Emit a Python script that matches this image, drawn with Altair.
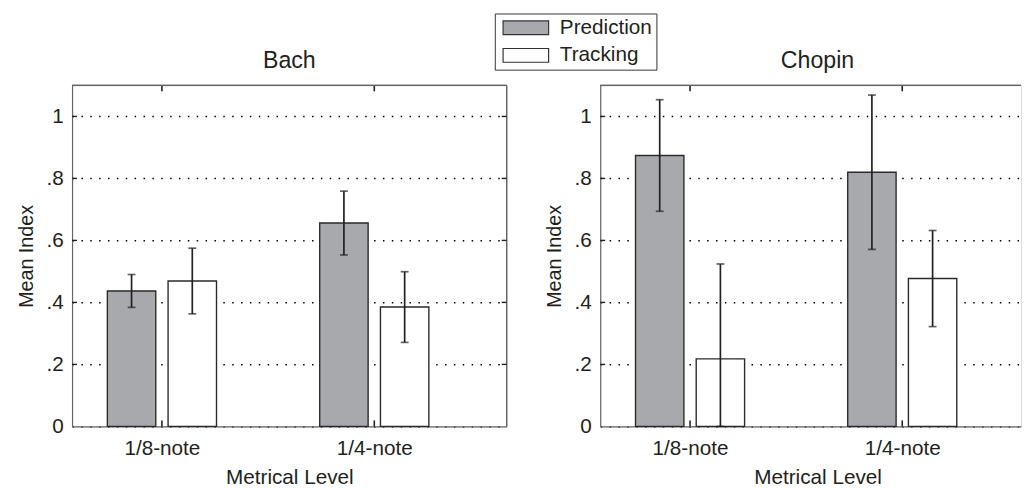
import json
import altair as alt
import pandas as pd

# ---- data ----
levels = ["1/8-note", "1/4-note"]
conditions = ["Prediction", "Tracking"]
bar_level = ["1/8-note", "1/8-note", "1/4-note", "1/4-note"]
bar_condition = ["Prediction", "Tracking", "Prediction", "Tracking"]
bach_mean = [0.437, 0.469, 0.656, 0.385]
bach_err = [0.053, 0.106, 0.103, 0.114]
chopin_mean = [0.874, 0.218, 0.820, 0.477]
chopin_err = [0.180, 0.306, 0.249, 0.155]
y_ticks = [0, 0.2, 0.4, 0.6, 0.8, 1.0]
y_tick_labels = ["0", ".2", ".4", ".6", ".8", "1"]

FONT = "Liberation Sans"
TXT = "#231f20"
FRAME = "#666666"
FS = 21

PX_PER_UNIT = 220.5
H = 346
GROUP_SHIFT = 0.143
HALF_BAR = 0.114


def panel(title, mean, err, width, right_border, legend):
    df = pd.DataFrame({
        "level": bar_level,
        "condition": bar_condition,
        "mean": mean,
        "err": err,
    })
    df["lvl"] = [levels.index(l) + 1 for l in df["level"]]
    xmax = 0.6 + width / PX_PER_UNIT
    xs = alt.Scale(domain=[0.6, xmax], nice=False, zero=False)
    ys = alt.Scale(domain=[0, 1.1], nice=False, zero=False)

    label_expr = "datum.value == 1 ? '%s' : '%s'" % (levels[0], levels[1])
    xaxis = alt.Axis(values=[1, 2], labelExpr=label_expr, title="Metrical Level",
                     ticks=False, grid=False, domainColor=FRAME, domainWidth=1.2,
                     labelPadding=12, titlePadding=8, titleX=220.5,
                     labelFontSize=FS, titleFontSize=FS, titleFontWeight="normal",
                     labelFont=FONT, titleFont=FONT, labelColor=TXT, titleColor=TXT)
    yaxis = alt.Axis(values=y_ticks, labelExpr=json.dumps(y_tick_labels) + "[round(datum.value*5)]",
                     title="Mean Index", ticks=False, grid=True, gridDash=[1.5, 7.5],
                     gridColor="#000000", gridWidth=1.5, domainColor=FRAME, domainWidth=1.2,
                     labelPadding=9, titlePadding=10, labelFontSize=FS, titleFontSize=20,
                     titleFontWeight="normal",
                     labelFont=FONT, titleFont=FONT, labelColor=TXT, titleColor=TXT)

    base = alt.Chart(df).transform_calculate(
        xc=f"datum.lvl + (datum.condition == '{conditions[0]}' ? -{GROUP_SHIFT} : {GROUP_SHIFT})"
    ).transform_calculate(
        x1=f"datum.xc - {HALF_BAR}", x2=f"datum.xc + {HALF_BAR}",
        lo="max(0, datum.mean - datum.err)", hi="datum.mean + datum.err",
    )

    bars = base.mark_bar(orient="vertical", stroke="#2a2a2a", strokeWidth=1.4).encode(
        x=alt.X("x1:Q", scale=xs, axis=xaxis),
        x2="x2:Q",
        y=alt.Y("mean:Q", scale=ys, axis=yaxis),
        y2=alt.datum(0),
        color=alt.Color("condition:N",
                        scale=alt.Scale(domain=conditions, range=["#a7a9ac", "#ffffff"]),
                        legend=legend),
    )
    ebar = base.mark_rule(color="#231f20", strokeWidth=1.7).encode(
        x="xc:Q", y="lo:Q", y2="hi:Q")
    cap_hi = base.mark_tick(orient="horizontal", size=8, thickness=1.7, color="#231f20").encode(
        x="xc:Q", y="hi:Q")
    cap_lo = base.mark_tick(orient="horizontal", size=8, thickness=1.7, color="#231f20").encode(
        x="xc:Q", y="lo:Q")

    tick_df = pd.DataFrame({"pos": [1, 2]})
    top_ticks = alt.Chart(tick_df).mark_rule(color="#231f20", strokeWidth=1.6).encode(
        x="pos:Q", y=alt.value(0), y2=alt.value(6))
    bot_ticks = alt.Chart(tick_df).mark_rule(color="#231f20", strokeWidth=1.6).encode(
        x="pos:Q", y=alt.value(H - 6), y2=alt.value(H))
    top_border = alt.Chart(tick_df).mark_rule(color=FRAME, strokeWidth=1.2).encode(
        x=alt.value(0), x2=alt.value(width), y=alt.value(0))

    yt_df = pd.DataFrame({"v": y_ticks[1:]})
    left_yt = alt.Chart(yt_df).mark_rule(color="#231f20", strokeWidth=1.4).encode(
        x=alt.value(0), x2=alt.value(5), y="v:Q")

    layers = [bars, ebar, cap_hi, cap_lo, top_ticks, bot_ticks, top_border, left_yt]
    if right_border:
        layers.append(alt.Chart(tick_df).mark_rule(color=FRAME, strokeWidth=1.2).encode(
            x=alt.value(width), y=alt.value(0), y2=alt.value(H)))
        layers.append(alt.Chart(yt_df).mark_rule(color="#231f20", strokeWidth=1.4).encode(
            x=alt.value(width - 5), x2=alt.value(width), y="v:Q"))

    dx = (441 - width) / 2
    return alt.layer(*layers).properties(
        width=width, height=H,
        title=alt.TitleParams(title, fontSize=23.5, fontWeight="normal", offset=12,
                              dx=dx, color=TXT, font=FONT),
    )


legend = alt.Legend(
    orient="none", legendX=429, legendY=-73, title=None,
    symbolType="M-3.3,-1L3.3,-1L3.3,1L-3.3,1Z", symbolSize=196,
    symbolStrokeColor="#333333", symbolStrokeWidth=1.2,
    symbolOffset=17, labelOffset=24, labelFontSize=FS, labelColor=TXT, labelFont=FONT,
    strokeColor="#333333", padding=4, rowPadding=6, fillColor="#ffffff",
)

left = panel("Bach", bach_mean, bach_err, 441, True, legend)
right = panel("Chopin", chopin_mean, chopin_err, 427, False, legend)

chart = alt.hconcat(left, right, spacing=35).properties(
    padding={"left": 7, "top": 1, "right": 0, "bottom": 0},
).configure_view(strokeOpacity=0).configure(background="#ffffff")

chart.save("out.html", embed_options={"renderer": "svg", "actions": False})
